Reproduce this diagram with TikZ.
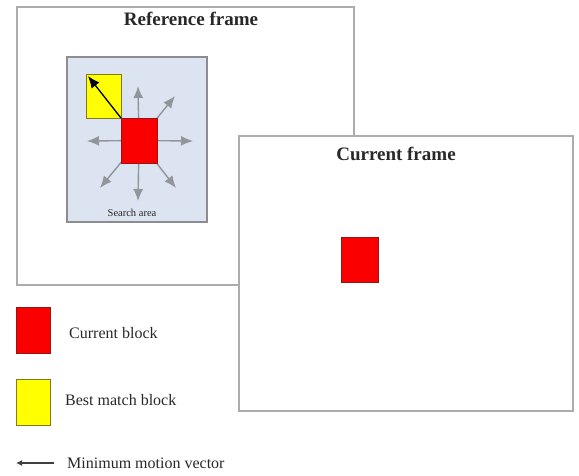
\documentclass[tikz,border=0pt]{standalone}
\usepackage{fontspec}
\setmainfont{Liberation Serif}
\usetikzlibrary{arrows.meta}
\definecolor{framegray}{RGB}{172,172,172}
\definecolor{areafill}{RGB}{220,227,241}
\definecolor{areaedge}{RGB}{140,140,145}
\definecolor{arrowgray}{RGB}{145,150,155}
\definecolor{blockred}{RGB}{250,0,0}
\definecolor{rededge}{RGB}{150,20,20}
\definecolor{blockyellow}{RGB}{255,255,0}
\definecolor{yellowedge}{RGB}{130,120,30}
\definecolor{textgray}{RGB}{40,40,40}
\begin{document}
\begin{tikzpicture}[x=1pt,y=-1pt,
  frame/.style={draw=framegray, line width=1.8pt, fill=white, inner sep=0pt, outer sep=0pt},
  area/.style={draw=areaedge, line width=1.2pt, fill=areafill, inner sep=0pt, outer sep=0pt, minimum width=140pt, minimum height=165pt},
  redblock/.style={draw=rededge, line width=0.6pt, fill=blockred, inner sep=0pt, outer sep=0pt},
  yellowblock/.style={draw=yellowedge, line width=0.6pt, fill=blockyellow, inner sep=0pt, outer sep=0pt},
  title/.style={font=\bfseries\fontsize{19}{22}\selectfont, text=textgray, inner sep=0pt},
  legendtext/.style={font=\fontsize{16}{19}\selectfont, text=textgray, anchor=west, inner sep=0pt},
  smalltext/.style={font=\fontsize{10.5}{12}\selectfont, text=textgray, inner sep=0pt},
  searcharrow/.style={draw=arrowgray, line width=1.4pt, -{Latex[length=12pt,width=10pt]}},
  motion/.style={draw=black, line width=1.3pt, -{Latex[length=12pt,width=10pt]}}
]
\useasboundingbox (0,0) rectangle (579,475);

% Reference frame
\node[frame, minimum width=337pt, minimum height=278pt] (ref) at (185.5,146) {};
\node[title] (reftitle) at (191,19) {Reference frame};
\node[area] (search) at (137,139.5) {};
\node[smalltext] (searchlabel) at (132,213) {Search area};

% gray search arrows (behind the red block)
\coordinate (c) at (139,140.5);
\coordinate (tu) at (138,86);
\coordinate (tur) at (175,96);
\coordinate (tr) at (193,141);
\coordinate (tl) at (87,141);
\coordinate (td) at (138,201);
\coordinate (tdl) at (100,188);
\coordinate (tdr) at (176,188);
\foreach \t in {tu,tur,tr,tl,td,tdl,tdr}{
  \draw[searcharrow] (c) -- (\t);
}

\node[yellowblock, minimum width=35pt, minimum height=44pt] (best) at (103.5,96) {};
\node[redblock, minimum width=36pt, minimum height=45pt] (cur) at (139,140.5) {};
\coordinate (mvtip) at (88,76);
\draw[motion] (cur.north west) -- (mvtip);

% Current frame
\node[frame, minimum width=334pt, minimum height=275pt] (curframe) at (406,273.5) {};
\node[title] (curtitle) at (396,154) {Current frame};
\node[redblock, minimum width=37pt, minimum height=45pt] (curblock) at (359.5,259.5) {};

% Legend
\node[redblock, minimum width=34pt, minimum height=46pt] (legred) at (33,330) {};
\node[legendtext] (legredtext) at (69,333) {Current block};
\node[yellowblock, minimum width=34pt, minimum height=46pt] (legyellow) at (33,402) {};
\node[legendtext] (legyellowtext) at (65,400) {Best match block};
\coordinate (mvstart) at (54,463);
\coordinate (mvend) at (16,463);
\draw[draw=black!75, line width=1.3pt, -{Latex[length=6pt,width=6pt]}] (mvstart) -- (mvend);
\node[legendtext] (legmvtext) at (67,463) {Minimum motion vector};
\end{tikzpicture}
\end{document}
